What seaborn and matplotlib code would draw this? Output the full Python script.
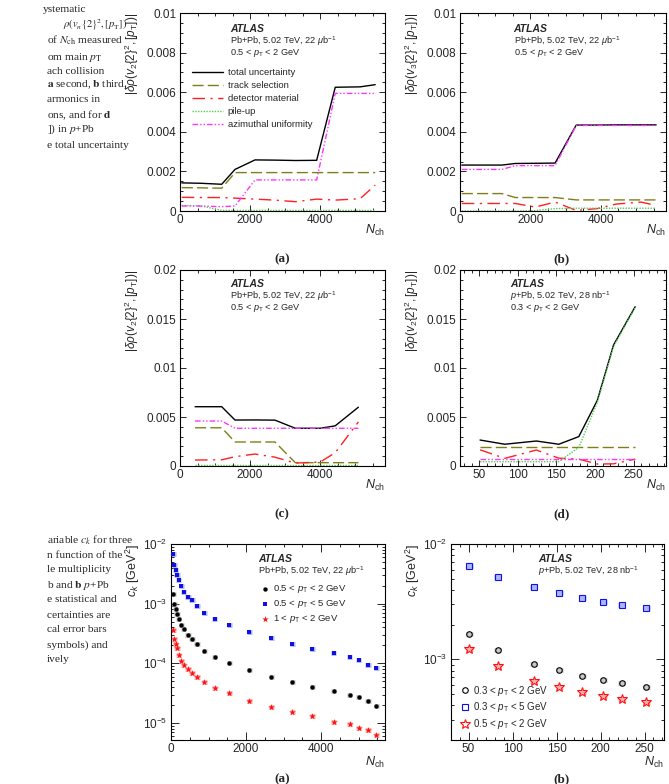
import matplotlib
matplotlib.use("Agg")
import matplotlib.pyplot as plt
from matplotlib.ticker import MultipleLocator, FuncFormatter, LogLocator, NullFormatter
import seaborn as sns

# ---------------- data ----------------
# Pb+Pb systematic uncertainties of rho(v2{2}^2,[pT]), 0.5 < pT < 2 GeV
nch_a = [50, 600, 1190, 1570, 2140, 2700, 3300, 3900, 4430, 5140, 5570]
tot_a = [0.00142, 0.00140, 0.00135, 0.00210, 0.00258, 0.00257, 0.00255, 0.00256, 0.00625, 0.00627, 0.00638]
trk_a = [0.00118, 0.00117, 0.00115, 0.00194, 0.00194, 0.00194, 0.00194, 0.00194, 0.00194, 0.00194, 0.00194]
mat_a = [0.00069, 0.00068, 0.00068, 0.00065, 0.00060, 0.00055, 0.00047, 0.00060, 0.00055, 0.00062, 0.00131]
pil_a = [0.00028, 0.00026, 0.00003, 0.00003, 0.00003, 0.00003, 0.00003, 0.00003, 0.00003, 0.00003, 0.00003]
azi_a = [0.00025, 0.00025, 0.00022, 0.00025, 0.00157, 0.00157, 0.00157, 0.00157, 0.00594, 0.00594, 0.00594]

# Pb+Pb, v3
tot_b = [0.00232, 0.00232, 0.00232, 0.00240, 0.00241, 0.00242, 0.00434, 0.00434, 0.00435, 0.00435, 0.00435]
trk_b = [0.00088, 0.00088, 0.00088, 0.00068, 0.00068, 0.00068, 0.00056, 0.00056, 0.00056, 0.00056, 0.00056]
mat_b = [0.00038, 0.00038, 0.00038, 0.00038, 0.00020, 0.00045, 0.00003, 0.00012, 0.00035, 0.00045, 0.00028]
pil_b = [0.00000, 0.00000, 0.00000, 0.00000, 0.00002, 0.00012, 0.00014, 0.00014, 0.00014, 0.00014, 0.00014]
azi_b = [0.00210, 0.00210, 0.00210, 0.00229, 0.00229, 0.00229, 0.00432, 0.00432, 0.00432, 0.00432, 0.00432]

# Pb+Pb, v2 (second selection)
nch_c = [430, 1190, 1570, 2140, 2710, 3290, 4000, 4430, 5090]
tot_c = [0.00605, 0.00605, 0.00469, 0.00470, 0.00468, 0.00385, 0.00385, 0.00410, 0.00600]
trk_c = [0.00390, 0.00390, 0.00245, 0.00245, 0.00245, 0.00034, 0.00034, 0.00034, 0.00034]
mat_c = [0.00061, 0.00063, 0.00095, 0.00122, 0.00090, 0.00030, 0.00040, 0.00136, 0.00450]
pil_c = [0.00008, 0.00008, 0.00008, 0.00008, 0.00008, 0.00008, 0.00008, 0.00008, 0.00008]
azi_c = [0.00459, 0.00459, 0.00385, 0.00385, 0.00385, 0.00385, 0.00385, 0.00385, 0.00385]

# p+Pb, v2, 0.3 < pT < 2 GeV
nch_d = [51, 83, 124, 153, 179, 203, 224, 252]
tot_d = [0.00265, 0.00222, 0.00255, 0.00222, 0.00300, 0.00670, 0.01235, 0.01625]
trk_d = [0.00197, 0.00197, 0.00197, 0.00197, 0.00197, 0.00197, 0.00197, 0.00197]
mat_d = [0.00165, 0.00078, 0.00163, 0.00080, 0.00070, 0.00020, 0.00022, 0.00070]
pil_d = [0.00044, 0.00044, 0.00044, 0.00044, 0.00190, 0.00650, 0.01220, 0.01615]
azi_d = [0.00071, 0.00071, 0.00071, 0.00071, 0.00071, 0.00071, 0.00071, 0.00071]

# c_k, Pb+Pb
nch_pbpb = [53, 90, 125, 160, 204, 276, 338, 453, 560, 693, 889, 1164, 1556, 2089,
            2667, 3227, 3760, 4338, 4764, 5004, 5244, 5467]
ck_pbpb_05_2 = [1.48e-3, 1.0e-3, 8.0e-4, 6.6e-4, 5.6e-4, 4.4e-4, 3.7e-4, 3.0e-4, 2.6e-4, 2.1e-4, 1.6e-4,
                1.27e-4, 1.0e-4, 7.7e-5, 6.0e-5, 4.9e-5, 4.05e-5, 3.43e-5, 3.0e-5, 2.7e-5, 2.31e-5, 1.91e-5]
ck_pbpb_05_5 = [6.7e-3, 4.5e-3, 3.6e-3, 3.0e-3, 2.5e-3, 1.95e-3, 1.6e-3, 1.3e-3, 1.15e-3, 9.3e-4, 6.9e-4,
                5.6e-4, 4.4e-4, 3.34e-4, 2.63e-4, 2.14e-4, 1.77e-4, 1.48e-4, 1.29e-4, 1.12e-4, 9.4e-5, 8.3e-5]
ck_pbpb_1_2 = [3.56e-4, 2.6e-4, 2.15e-4, 1.8e-4, 1.4e-4, 1.09e-4, 9.4e-5, 7.9e-5, 7.0e-5, 5.8e-5, 4.9e-5,
               3.9e-5, 3.2e-5, 2.37e-5, 1.88e-5, 1.56e-5, 1.29e-5, 1.05e-5, 9.5e-6, 8.4e-6, 7.7e-6, 6.4e-6]

# c_k, p+Pb
nch_ppb = [51, 83, 124, 153, 179, 203, 224, 252]
ck_ppb_03_2 = [1.65e-3, 1.2e-3, 9.05e-4, 8.03e-4, 7.13e-4, 6.58e-4, 6.2e-4, 5.72e-4]
ck_ppb_03_5 = [6.48e-3, 5.2e-3, 4.21e-3, 3.73e-3, 3.38e-3, 3.12e-3, 2.98e-3, 2.81e-3]
ck_ppb_05_2 = [1.23e-3, 8.8e-4, 6.44e-4, 5.8e-4, 5.18e-4, 4.81e-4, 4.56e-4, 4.24e-4]

sys_labels = ["total uncertainty", "track selection", "detector material", "pile-up", "azimuthal uniformity"]

# ---------------- style ----------------
sns.set_style("ticks")
plt.rcParams['font.family'] = ['Liberation Sans', 'DejaVu Sans']
plt.rcParams['mathtext.fontset'] = 'custom'
plt.rcParams['mathtext.rm'] = 'Liberation Sans'
plt.rcParams['mathtext.it'] = 'Liberation Sans:italic'
plt.rcParams['mathtext.bf'] = 'Liberation Sans:bold'

sys_styles = [
    dict(color='black', ls='-'),
    dict(color='#7f7f1a', ls=(0, (8, 3))),
    dict(color='#ff2020', ls=(0, (9, 4, 1.5, 4))),
    dict(color='#55cc55', ls=(0, (1, 1))),
    dict(color='#ff33ff', ls=(0, (4, 1.5, 1, 1.5, 1, 1.5))),
]

fig = plt.figure(figsize=(6.69, 7.84), dpi=100)
W, H = 669, 784


def add_ax(left, top, right, bottom):
    return fig.add_axes([left / W, 1 - bottom / H, (right - left) / W, (bottom - top) / H])


def style(ax, nch_y=-0.10):
    ax.tick_params(which='both', direction='in', top=True, right=True, labelsize=8.5, width=0.7, pad=2.5)
    ax.tick_params(which='major', length=4.5)
    ax.tick_params(which='minor', length=2.3)
    for s in ax.spines.values():
        s.set_linewidth(0.8)
        s.set_color('black')
    ax.text(1.0, nch_y, r'$N_{\mathrm{ch}}$', transform=ax.transAxes, ha='right', va='center', fontsize=9)


def sys_panel(ax, x, series, ylab):
    for y, lab, st in zip(series, sys_labels, sys_styles):
        sns.lineplot(x=x, y=y, ax=ax, color=st['color'], linestyle=st['ls'], linewidth=1.0, label=lab, legend=False)
    ax.set_xlabel('')
    ax.set_ylabel(ylab, loc='top', fontsize=8.5)
    ax.yaxis.set_label_coords(-0.19, 1.0)
    ax.yaxis.set_major_formatter(FuncFormatter(lambda v, p: '%g' % round(v, 6)))
    ax.xaxis.set_major_formatter(FuncFormatter(lambda v, p: '%g' % v))
    style(ax)


def header(ax, x, y, lines, dy=0.061):
    ax.text(x, y, 'ATLAS', transform=ax.transAxes, fontsize=7.5, fontweight='bold', style='italic', va='center')
    for i, t in enumerate(lines):
        ax.text(x, y - dy * (i + 1), t, transform=ax.transAxes, fontsize=6.6, va='center')


pt = r'$p_{\mathrm{T}}$'
pbpb = r'Pb+Pb, 5.02 TeV, 22 $\mu$b$^{\mathregular{-1}}$'
ppb = r'$p$+Pb, 5.02 TeV, 28 nb$^{\mathregular{-1}}$'
lab_v2 = r'$|\delta\rho(v_{2}\{2\}^{2},[p_{\mathrm{T}}])|$'
lab_v3 = r'$|\delta\rho(v_{3}\{2\}^{2},[p_{\mathrm{T}}])|$'

# ---- (a)
ax = add_ax(180, 13, 385, 211)
sys_panel(ax, nch_a, [tot_a, trk_a, mat_a, pil_a, azi_a], lab_v2)
ax.set_xlim(0, 5850)
ax.set_ylim(0, 0.01)
ax.xaxis.set_major_locator(MultipleLocator(2000))
ax.xaxis.set_minor_locator(MultipleLocator(500))
ax.yaxis.set_major_locator(MultipleLocator(0.002))
ax.yaxis.set_minor_locator(MultipleLocator(0.0005))
header(ax, 0.244, 0.919, [pbpb, '0.5 < ' + pt + ' < 2 GeV'])
ax.legend(loc='upper left', bbox_to_anchor=(0.04, 0.74), frameon=False, fontsize=6.8,
          handlelength=3.3, labelspacing=0.42, borderaxespad=0, handletextpad=0.5, borderpad=0.4)

# ---- (b)
ax = add_ax(460, 13, 666, 211)
sys_panel(ax, nch_a, [tot_b, trk_b, mat_b, pil_b, azi_b], lab_v3)
ax.set_xlim(0, 5850)
ax.set_ylim(0, 0.01)
ax.xaxis.set_major_locator(MultipleLocator(2000))
ax.xaxis.set_minor_locator(MultipleLocator(500))
ax.yaxis.set_major_locator(MultipleLocator(0.002))
ax.yaxis.set_minor_locator(MultipleLocator(0.0005))
header(ax, 0.26, 0.919, [pbpb, '0.5 < ' + pt + ' < 2 GeV'])

# ---- (c)
ax = add_ax(180, 270, 385, 466)
sys_panel(ax, nch_c, [tot_c, trk_c, mat_c, pil_c, azi_c], lab_v2)
ax.set_xlim(0, 5850)
ax.set_ylim(0, 0.02)
ax.xaxis.set_major_locator(MultipleLocator(2000))
ax.xaxis.set_minor_locator(MultipleLocator(500))
ax.yaxis.set_major_locator(MultipleLocator(0.005))
ax.yaxis.set_minor_locator(MultipleLocator(0.001))
header(ax, 0.244, 0.927, [pbpb, '0.5 < ' + pt + ' < 2 GeV'])

# ---- (d)
ax = add_ax(460, 270, 666, 466)
sys_panel(ax, nch_d, [tot_d, trk_d, mat_d, pil_d, azi_d], lab_v2)
ax.set_xlim(25, 292)
ax.set_ylim(0, 0.02)
ax.xaxis.set_major_locator(MultipleLocator(50))
ax.xaxis.set_minor_locator(MultipleLocator(10))
ax.yaxis.set_major_locator(MultipleLocator(0.005))
ax.yaxis.set_minor_locator(MultipleLocator(0.001))
header(ax, 0.243, 0.927, [ppb, '0.3 < ' + pt + ' < 2 GeV'])

# ---- c_k Pb+Pb
ax = add_ax(171, 544, 385, 740)
for y, shade in [(ck_pbpb_05_2, '#c8c8c8'), (ck_pbpb_05_5, '#aab4ff'), (ck_pbpb_1_2, '#ffb0b0')]:
    ax.errorbar(nch_pbpb, y, xerr=70, fmt='none', ecolor=shade, elinewidth=3.5, capsize=0, zorder=1)
sns.scatterplot(x=nch_pbpb, y=ck_pbpb_05_2, ax=ax, color='black', marker='o', s=10, linewidth=0,
                label='0.5 < ' + pt + ' < 2 GeV', zorder=3)
sns.scatterplot(x=nch_pbpb, y=ck_pbpb_05_5, ax=ax, color='#1010e0', marker='s', s=10, linewidth=0,
                label='0.5 < ' + pt + ' < 5 GeV', zorder=3)
sns.scatterplot(x=nch_pbpb, y=ck_pbpb_1_2, ax=ax, color='#ff1010', marker='*', s=24, linewidth=0,
                label='1 < ' + pt + ' < 2 GeV', zorder=3)
ax.set_yscale('log')
ax.set_xlim(0, 5700)
ax.set_ylim(5.2e-6, 1e-2)
ax.xaxis.set_major_locator(MultipleLocator(2000))
ax.xaxis.set_minor_locator(MultipleLocator(500))
ax.xaxis.set_major_formatter(FuncFormatter(lambda v, p: '%g' % v))
ax.yaxis.set_minor_locator(LogLocator(base=10, subs=range(2, 10)))
ax.yaxis.set_minor_formatter(NullFormatter())
ax.set_ylabel(r'$c_k$ [GeV$^{\mathregular{2}}$]', loc='top', fontsize=9)
ax.yaxis.set_label_coords(-0.136, 1.0)
ax.set_xlabel('')
style(ax, nch_y=-0.115)
ax.tick_params(which='major', length=5.5)
header(ax, 0.408, 0.923, [pbpb], dy=0.064)
ax.legend(loc='upper left', bbox_to_anchor=(0.405, 0.818), frameon=False, fontsize=6.8,
          handlelength=0.8, labelspacing=0.3, borderaxespad=0, handletextpad=0.4, borderpad=0.4)

# ---- c_k p+Pb
ax = add_ax(451, 544, 664, 740)
for y, shade in [(ck_ppb_03_2, '#c8c8c8'), (ck_ppb_03_5, '#aab4ff'), (ck_ppb_05_2, '#ffb0b0')]:
    ax.errorbar(nch_ppb, y, xerr=4, fmt='none', ecolor=shade, elinewidth=3.5, capsize=0, zorder=1)
ax.plot(nch_ppb, ck_ppb_03_2, ls='none', marker='o', ms=4, mfc='none', mec='black', mew=0.8,
        label='0.3 < ' + pt + ' < 2 GeV', zorder=3)
ax.plot(nch_ppb, ck_ppb_03_5, ls='none', marker='s', ms=4, mfc='none', mec='#1010e0', mew=0.8,
        label='0.3 < ' + pt + ' < 5 GeV', zorder=3)
ax.plot(nch_ppb, ck_ppb_05_2, ls='none', marker='*', ms=7, mfc='none', mec='#ff1010', mew=0.8,
        label='0.5 < ' + pt + ' < 2 GeV', zorder=3)
ax.set_yscale('log')
ax.set_xlim(30, 272)
ax.set_ylim(2e-4, 1e-2)
ax.xaxis.set_major_locator(MultipleLocator(50))
ax.xaxis.set_minor_locator(MultipleLocator(10))
ax.xaxis.set_major_formatter(FuncFormatter(lambda v, p: '%g' % v))
ax.yaxis.set_minor_locator(LogLocator(base=10, subs=range(2, 10)))
ax.yaxis.set_minor_formatter(NullFormatter())
ax.set_ylabel(r'$c_k$ [GeV$^{\mathregular{2}}$]', loc='top', fontsize=9)
ax.yaxis.set_label_coords(-0.136, 1.0)
style(ax, nch_y=-0.115)
ax.tick_params(which='major', length=5.5)
header(ax, 0.41, 0.923, [ppb], dy=0.06)
ax.legend(loc='lower left', bbox_to_anchor=(0.03, 0.024), frameon=False, fontsize=7,
          handlelength=0.8, labelspacing=0.3, borderaxespad=0, handletextpad=0.4, borderpad=0.4)

# ---- sub-figure labels
for x, y, t in [(282, 259, '(a)'), (562, 259, '(b)'), (282, 514, '(c)'), (562, 514, '(d)'),
                (282, 779, '(a)'), (562, 779, '(b)')]:
    fig.text(x / W, 1 - y / H, t, ha='center', va='center', fontsize=9.5, fontweight='bold',
             family='Liberation Serif')

# ---- caption fragments (cut off on the left)
cap_top = [(43, 10, 'ystematic'),
           (63, 25, r'$\rho(v_n\{2\}^2, [p_{\mathrm{T}}])$'),
           (47, 40, r'of $N_{\mathrm{ch}}$ measured'),
           (47, 57, r'om main $p_{\mathrm{T}}$'),
           (47, 71, 'ach collision'),
           (47, 85, r'$\mathbf{a}$ second, $\mathbf{b}$ third,'),
           (47, 99, 'armonics in'),
           (47, 115, r'ons, and for $\mathbf{d}$'),
           (47, 129, r']) in $p$+Pb'),
           (47, 145, 'e total uncertainty')]
cap_bot = [(47, 540, r'ariable $c_k$ for three'),
           (47, 555, 'n function of the'),
           (47, 570, 'le multiplicity'),
           (47, 585, r'b and $\mathbf{b}$ $p$+Pb'),
           (47, 600, 'e statistical and'),
           (47, 615, 'certainties are'),
           (47, 630, 'cal error bars'),
           (47, 645, 'symbols) and'),
           (47, 660, 'ively')]
for x, y, t in cap_top + cap_bot:
    fs = 7.6 if t.startswith(r'$\rho') else 8.2
    fig.text(x / W, 1 - y / H, t, ha='left', va='center', fontsize=fs,
             family='Liberation Serif', math_fontfamily='stix')

fig.savefig('out.png', dpi=100)
